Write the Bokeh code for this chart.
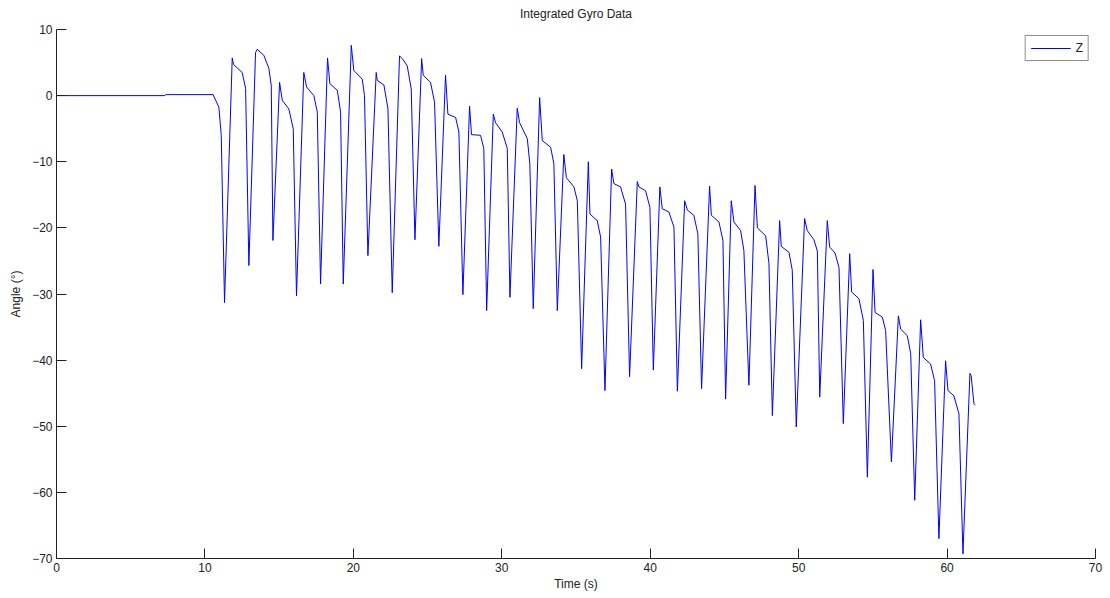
from bokeh.plotting import figure
from bokeh.models import Range1d, FixedTicker, Legend, LegendItem
from bokeh.embed import file_html
from bokeh.resources import INLINE

# Integrated gyro Z angle (degrees) versus time (s)
time_s = [
    0.0, 7.3, 7.35, 10.55, 10.94, 11.1,
    11.32, 11.84, 11.93, 12.51, 12.74,
    12.96, 13.41, 13.52, 13.97, 14.31, 14.47,
    14.58, 15.03, 15.21, 15.65, 15.95,
    16.17, 16.66, 16.85, 17.34, 17.57,
    17.79, 18.26, 18.42, 18.92, 19.14,
    19.32, 19.86, 20.03, 20.6, 20.75,
    20.98, 21.54, 21.61, 22.06, 22.33,
    22.62, 23.11, 23.3, 23.63, 23.9,
    24.15, 24.6, 24.71, 25.2, 25.47,
    25.76, 26.21, 26.37, 26.89, 27.11,
    27.38, 27.83, 27.96, 28.57, 28.79,
    28.98, 29.43, 29.58, 30.03, 30.37,
    30.55, 31.04, 31.2, 31.72, 31.89,
    32.12, 32.55, 32.73, 33.29, 33.51,
    33.74, 34.18, 34.35, 34.86, 35.09,
    35.38, 35.83, 35.94, 36.43, 36.66,
    36.95, 37.4, 37.55, 38.0, 38.34,
    38.61, 39.13, 39.24, 39.69, 39.98,
    40.21, 40.65, 40.81, 41.26, 41.6,
    41.83, 42.32, 42.5, 42.94, 43.21,
    43.46, 44.0, 44.12, 44.63, 44.9,
    45.08, 45.46, 45.64, 46.09, 46.31,
    46.65, 47.06, 47.22, 47.78, 48.0,
    48.23, 48.72, 48.83, 49.35, 49.57,
    49.84, 50.4, 50.58, 51.03, 51.26,
    51.42, 51.93, 52.09, 52.45, 52.72,
    53.01, 53.44, 53.57, 54.06, 54.36,
    54.63, 55.01, 55.15, 55.64, 55.86,
    56.25, 56.72, 56.87, 57.32, 57.55,
    57.82, 58.22, 58.4, 58.89, 59.16,
    59.45, 59.9, 60.06, 60.46, 60.8,
    61.07, 61.54, 61.62, 61.81, 61.9,
]
angle_deg = [
    0.0, 0.0, 0.15, 0.15, -1.75, -6.0,
    -31.3, 5.7, 4.7, 3.5, 1.1,
    -25.7, 6.5, 7.0, 6.1, 4.1, 1.5,
    -21.9, 2.0, -0.7, -2.0, -5.0,
    -30.3, 3.5, 1.3, 0.0, -2.5,
    -28.5, 5.7, 1.8, 0.8, -2.5,
    -28.5, 7.6, 3.8, 2.5, 0.0,
    -24.2, 3.5, 2.3, 1.6, -2.0,
    -29.8, 6.0, 5.6, 4.5, 1.0,
    -21.8, 5.6, 3.1, 2.0, -1.0,
    -22.8, 3.1, -2.8, -3.3, -5.5,
    -30.1, -1.6, -5.9, -6.0, -8.0,
    -32.5, -2.8, -4.1, -5.5, -8.0,
    -30.5, -1.9, -4.1, -6.5, -10.3,
    -32.2, -0.3, -6.8, -7.8, -10.3,
    -32.5, -8.9, -12.4, -13.8, -15.9,
    -41.3, -10.0, -17.9, -18.9, -21.4,
    -44.6, -11.1, -13.3, -13.8, -16.4,
    -42.5, -13.0, -13.8, -14.4, -16.9,
    -41.5, -13.8, -17.1, -17.6, -19.9,
    -44.7, -15.9, -17.3, -18.1, -20.9,
    -44.3, -13.7, -18.1, -19.1, -21.9,
    -45.9, -15.9, -19.1, -20.4, -23.4,
    -43.8, -13.6, -20.0, -21.2, -25.4,
    -48.4, -18.9, -22.8, -23.7, -26.4,
    -50.1, -18.6, -20.4, -21.8, -23.5,
    -45.6, -18.9, -22.9, -23.8, -26.0,
    -49.6, -23.9, -29.7, -30.7, -34.0,
    -57.7, -26.3, -32.8, -33.5, -35.5,
    -55.4, -33.3, -35.3, -36.3, -39.0,
    -61.2, -33.9, -39.6, -40.6, -43.1,
    -67.0, -40.1, -44.6, -45.4, -48.1,
    -69.3, -42.0, -42.3, -46.6, -46.8,
]
x_ticks = [0, 10, 20, 30, 40, 50, 60, 70]
y_ticks = [-70, -60, -50, -40, -30, -20, -10, 0, 10]
title_text = "Integrated Gyro Data"

FONT = "Liberation Sans"

p = figure(width=1110, height=598, output_backend="svg", toolbar_location=None,
           x_range=Range1d(0, 70), y_range=Range1d(-70, 10),
           min_border_left=56, min_border_right=15, min_border_top=29,
           min_border_bottom=40, title=title_text)
p.background_fill_color = "white"
p.border_fill_color = "white"
p.outline_line_color = None
p.xgrid.visible = False
p.ygrid.visible = False

p.title.align = "center"
p.title.vertical_align = "top"
p.title.text_font = FONT
p.title.text_font_size = "12px"
p.title.text_font_style = "normal"
p.title.text_color = "#222222"
p.title.standoff = 13

for ax, ticks in ((p.xaxis, x_ticks), (p.yaxis, y_ticks)):
    ax.ticker = FixedTicker(ticks=ticks)
    ax.major_tick_in = 10
    ax.major_tick_out = 0
    ax.minor_tick_line_color = None
    ax.axis_line_color = "#222222"
    ax.major_tick_line_color = "#222222"
    ax.major_label_text_font = FONT
    ax.major_label_text_font_size = "12px"
    ax.major_label_text_color = "#222222"
    ax.axis_label_text_font = FONT
    ax.axis_label_text_font_size = "12px"
    ax.axis_label_text_font_style = "normal"
    ax.axis_label_text_color = "#222222"
    ax.major_label_standoff = 4

p.xaxis.axis_label = "Time (s)"
p.yaxis.axis_label = "Angle (°)"
p.xaxis.axis_label_standoff = 2
p.yaxis.axis_label_standoff = 6

r = p.line(time_s, angle_deg, line_color="#0000ff", line_width=1)

legend = Legend(items=[LegendItem(label="Z", renderers=[r])], location="top_right")
legend.label_text_font = FONT
legend.label_text_font_size = "12px"
legend.label_text_color = "#222222"
legend.glyph_width = 40
legend.glyph_height = 12
legend.label_width = 0
legend.padding = 5
legend.margin = 6
legend.spacing = 0
legend.label_standoff = 5
legend.border_line_color = "#222222"
legend.border_line_width = 1
legend.background_fill_color = "white"
legend.background_fill_alpha = 1
p.add_layout(legend)

open("out.html", "w").write(file_html(p, INLINE))
